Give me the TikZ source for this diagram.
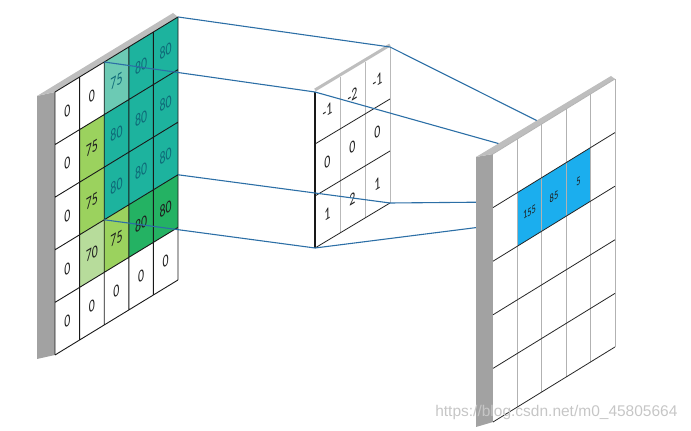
\documentclass[tikz,border=0pt]{standalone}
\usepackage{fontspec}
\setmainfont{Carlito}
\setsansfont{Liberation Sans}
\usetikzlibrary{positioning}

\definecolor{cellteal}{HTML}{1DB39E}
\definecolor{celltealL}{HTML}{6CCAB4}
\definecolor{cellgreenL}{HTML}{9BD25E}
\definecolor{cellgreenP}{HTML}{B7DC9B}
\definecolor{cellgreenD}{HTML}{24B263}
\definecolor{cellblue}{HTML}{1BAEEE}
\definecolor{numteal}{HTML}{0E6A78}
\definecolor{numdark}{HTML}{1E1E1E}
\definecolor{linkblue}{HTML}{2C6FA6}
\definecolor{sidegray}{HTML}{A2A2A2}
\definecolor{topgray}{HTML}{BEBEBE}

\tikzset{
  num/.style={transform shape, inner sep=0pt, font=\fontsize{17.5}{17.5}\selectfont, xscale=0.68},
  smallnum/.style={transform shape, inner sep=0pt, font=\fontsize{12}{12}\selectfont, xscale=0.7, text=numdark},
  link/.style={draw=linkblue, line width=1.1pt},
}

\begin{document}
\begin{tikzpicture}[x=1pt,y=1pt]
\useasboundingbox (0,0) rectangle (691,431);

% input image, 5x5
\fill[sidegray] (37,335) -- (55,339) -- (55,76) -- (37,72) -- cycle;
\fill[topgray] (37,335) -- (55,339) -- (178,414) -- (173,418) -- cycle;
\begin{scope}[shift={(55,76)}, yslant=0.61]
\fill[white] (0,0) rectangle (123,263);
\foreach \r/\c/\col in {0/2/celltealL, 0/3/cellteal, 0/4/cellteal,
                        1/1/cellgreenL, 1/2/cellteal, 1/3/cellteal, 1/4/cellteal,
                        2/1/cellgreenL, 2/2/cellteal, 2/3/cellteal, 2/4/cellteal,
                        3/1/cellgreenP, 3/2/cellgreenL, 3/3/cellgreenD, 3/4/cellgreenD}
  \fill[\col] ({\c*24.6},{(4-\r)*52.6}) rectangle ++(24.6,52.6);
\draw[gray!20!black, line width=0.9pt, xstep=24.6, ystep=52.6] (0,0) grid (123,263);
\foreach \vals [count=\r from 0] in {{0,0,75,80,80},{0,75,80,80,80},{0,75,80,80,80},{0,70,75,80,80},{0,0,0,0,0}}
  \foreach \v [count=\c from 0] in \vals {
    \pgfmathtruncatemacro\inwin{and(\r<3,\c>1)}
    \ifnum\inwin=1 \def\tc{numteal}\else\def\tc{numdark}\fi
    \node[num, text=\tc] (in-\r-\c) at ({(\c+0.5)*24.6},{(4.5-\r)*52.6}) {\v};
  }
\coordinate (w-tl) at (49.2,263);
\coordinate (w-tr) at (123,263);
\coordinate (w-br) at (123,105.2);
\coordinate (w-bl) at (49.2,105.2);
\end{scope}

% kernel, 3x3
\begin{scope}[shift={(315,183)}, yslant=0.6]
\fill[white] (0,0) rectangle (75,156);
\draw[topgray, line width=3pt] (0,158) -- (75,158);
\draw[gray!55, line width=0.8pt] (25,0) -- (25,156) (50,0) -- (50,156) (75,0) -- (75,156);
\draw[gray!30!black, line width=0.8pt] (0,52) -- (75,52) (0,104) -- (75,104) (0,0) -- (75,0);
\draw[gray!20!black, line width=2.4pt] (0,0) -- (0,156);
\foreach \vals [count=\r from 0] in {{-1,-2,-1},{0,0,0},{1,2,1}}
  \foreach \v [count=\c from 0] in \vals
    \node[num, text=numdark] (k-\r-\c) at ({(\c+0.5)*25},{(2.5-\r)*52}) {\v};
\coordinate (k-tl) at (0,156);
\coordinate (k-tr) at (75,156);
\coordinate (k-br) at (75,0);
\coordinate (k-bl) at (0,0);
\end{scope}

% receptive field lines
\draw[link] (w-tr) -- (k-tr);
\draw[link] (w-tl) -- (k-tl);
\draw[link] (w-br) -- (k-br);
\draw[link] (w-bl) -- (k-bl);

% output position of the kernel (hidden behind the output map)
\path (493,9) ++(73.2,{160.8+0.615*73.2}) coordinate (o-bl)
      (493,9) ++(97.6,{160.8+0.615*97.6}) coordinate (o-br)
      (493,9) ++(73.2,{214.4+0.615*73.2}) coordinate (o-tl)
      (493,9) ++(97.6,{214.4+0.615*97.6}) coordinate (o-tr);
\draw[link] (k-tr) -- (o-tr);
\draw[link] (k-tl) -- (o-tl);
\draw[link] (k-br) -- (o-br);
\draw[link] (k-bl) -- (o-bl);

% output feature map, 5x5
\fill[sidegray] (476,274) -- (493,277) -- (493,9) -- (476,4) -- cycle;
\fill[topgray] (476,274) -- (493,277) -- (615,352) -- (611,355) -- cycle;
\begin{scope}[shift={(493,9)}, yslant=0.615]
\fill[white] (0,0) rectangle (122,268);
\fill[cellblue] (24.4,160.8) rectangle (97.6,214.4);
\foreach \x in {24.4,48.8,73.2,97.6,122}
  \draw[gray!60, line width=0.8pt] (\x,0) -- (\x,268);
\foreach \y in {0,53.6,107.2,160.8,214.4}
  \draw[gray!30!black, line width=0.8pt] (0,\y) -- (122,\y);
\draw[gray!60, line width=0.8pt] (0,268) -- (122,268);
\node[smallnum] (out-1) at (36.6,187.6) {155};
\node[smallnum] (out-2) at (61,187.6) {85};
\node[smallnum] (out-3) at (85.4,187.6) {5};
\end{scope}

\node[font=\sffamily\fontsize{15.5}{15.5}\selectfont, text=gray!45, anchor=east] (wm) at (681,19) {https://blog.csdn.net/m0\_45805664};
\end{tikzpicture}
\end{document}
